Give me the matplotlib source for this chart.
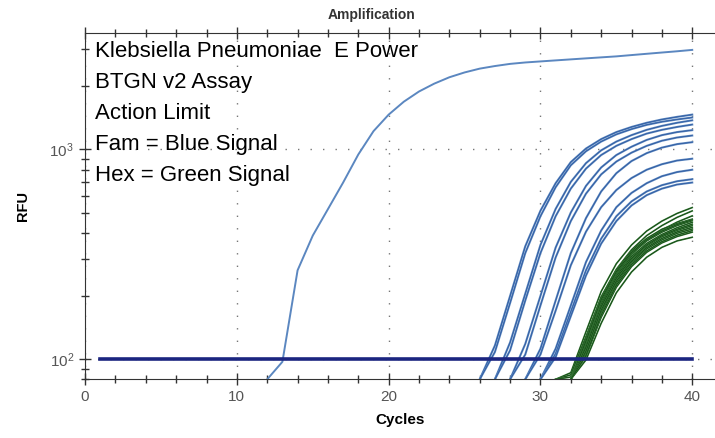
import numpy as np
import matplotlib.pyplot as plt
import matplotlib.ticker as mticker

plt.rcParams['font.family'] = ['Liberation Sans', 'DejaVu Sans']

# early positive control, cycles 12..40
early_start = 12
early_rfu = [80, 97, 265, 388, 519, 695, 946, 1222, 1466,
             1690, 1890, 2060, 2210, 2330, 2430, 2500, 2560, 2600, 2630,
             2660, 2690, 2720, 2750, 2780, 2820, 2860, 2900, 2940, 2985]

# Fam (blue) wells: first visible cycle and RFU up to cycle 40
blue_start = [26, 26, 27, 27, 28, 28, 29, 29, 30, 30, 30]
blue_rfu = [
    [80, 116, 200, 345, 510, 690, 870, 1010, 1120, 1210, 1280, 1340, 1390, 1430, 1466],
    [80, 108, 185, 320, 480, 660, 840, 980, 1090, 1180, 1250, 1310, 1355, 1390, 1420],
    [80, 120, 205, 350, 520, 700, 860, 990, 1090, 1170, 1240, 1295, 1340, 1377],
    [80, 110, 190, 320, 480, 650, 810, 940, 1040, 1120, 1190, 1240, 1280, 1314],
    [80, 118, 200, 340, 500, 670, 820, 940, 1030, 1110, 1170, 1210, 1236],
    [80, 105, 180, 305, 455, 615, 760, 875, 965, 1040, 1100, 1140, 1165],
    [80, 112, 190, 320, 470, 630, 770, 880, 960, 1020, 1060, 1083],
    [80, 105, 170, 280, 405, 530, 640, 730, 800, 850, 885, 903],
    [80, 112, 180, 290, 410, 530, 620, 690, 745, 780, 800],
    [80, 106, 168, 265, 375, 480, 565, 630, 675, 705, 721],
    [80, 102, 160, 250, 355, 455, 540, 605, 650, 680, 695],
]

# Hex (green) wells
green_start = [31, 31, 31, 32, 32, 32, 32, 32, 32, 32, 32, 32, 32, 32]
green_rfu = [
    [80, 86, 135, 210, 285, 350, 408, 455, 495, 528],
    [80, 84, 128, 198, 268, 332, 388, 433, 474, 509],
    [80, 82, 120, 186, 252, 315, 368, 413, 450, 482],
    [80, 125, 196, 265, 328, 376, 416, 443, 465],
    [80, 120, 188, 257, 318, 366, 403, 433, 457],
    [80, 116, 182, 248, 308, 356, 393, 423, 449],
    [80, 112, 175, 240, 298, 346, 383, 411, 433],
    [80, 107, 167, 230, 288, 335, 370, 398, 417],
    [80, 103, 158, 220, 276, 323, 358, 384, 403],
    [80, 99, 148, 207, 260, 306, 341, 366, 381],
    [80, 122, 192, 261, 322, 370, 408, 438, 462],
    [80, 114, 178, 243, 302, 350, 388, 416, 440],
    [80, 109, 171, 235, 293, 340, 376, 404, 425],
    [80, 104, 162, 225, 282, 328, 363, 390, 410],
]

threshold = 100
threshold_span = [1, 40]

notes = ['Klebsiella Pneumoniae  E Power', 'BTGN v2 Assay', 'Action Limit',
         'Fam = Blue Signal', 'Hex = Green Signal']

fig = plt.figure(figsize=(7.15, 4.38), dpi=100)
ax = fig.add_axes([0.119, 0.134, 0.881, 0.791])

ax.plot(threshold_span, [threshold, threshold], color='#1b2580', lw=2.6, zorder=3)

c = np.arange(early_start, early_start + len(early_rfu))
ax.plot(c, early_rfu, color='#5b87c0', lw=1.4)

for s, vals in zip(blue_start, blue_rfu):
    c = np.arange(s, s + len(vals))
    ax.plot(c, vals, color='#5b87c0', lw=1.5)
    ax.plot(c, vals, color='#2a559c', lw=0.5)

for s, vals in zip(green_start, green_rfu):
    c = np.arange(s, s + len(vals))
    ax.plot(c, vals, color='#3a7a3a', lw=1.2)
    ax.plot(c, vals, color='#0f4510', lw=0.5)

ax.set_yscale('log')
ax.set_xlim(0, 41.5)
ax.set_ylim(80, 3600)

ax.xaxis.set_major_locator(mticker.MultipleLocator(10))
ax.xaxis.set_minor_locator(mticker.MultipleLocator(2))
ax.yaxis.set_major_locator(mticker.LogLocator(base=10, numticks=10))
ax.yaxis.set_minor_locator(mticker.LogLocator(base=10, subs=np.arange(2, 10), numticks=10))
ax.yaxis.set_minor_formatter(mticker.NullFormatter())

ax.grid(True, which='major', color='#777777', linestyle=(0, (1, 8)), lw=1)
ax.spines['right'].set_visible(False)
for sp in ['left', 'bottom', 'top']:
    ax.spines[sp].set_color('#333333')
ax.tick_params(which='major', direction='inout', length=9, width=1, color='#333333',
               labelsize=11, labelcolor='#555555', top=True)
ax.tick_params(which='minor', direction='inout', length=6, width=1, color='#333333', top=True)

ax.set_xlabel('Cycles', fontweight='bold', fontsize=11, labelpad=6)
ax.set_ylabel('RFU', fontweight='bold', fontsize=10.5, labelpad=14)
fig.text(0.52, 0.966, 'Amplification', fontweight='bold', fontsize=10,
         color='#333333', ha='center', va='center')

for i, line in enumerate(notes):
    ax.text(0.016, 0.931 - i * 0.0895, line, transform=ax.transAxes,
            fontsize=16, va='baseline', ha='left', color='black')

plt.savefig('out.png', dpi=100)
